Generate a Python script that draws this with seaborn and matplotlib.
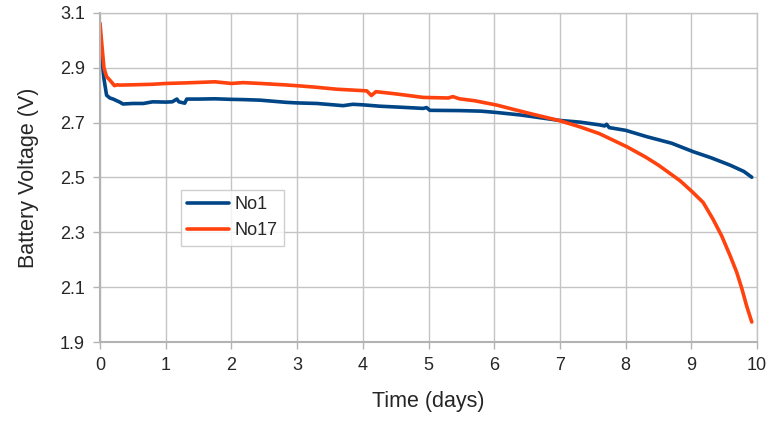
import numpy as np
import pandas as pd
import matplotlib
matplotlib.use('Agg')
import matplotlib.pyplot as plt
import seaborn as sb

# No1 cell
t_no1 = [0, 0.03, 0.06, 0.1, 0.15, 0.2, 0.3, 0.35, 0.5, 0.66, 0.8, 1.0, 1.1, 1.17, 1.2,
         1.29, 1.32, 1.5, 1.75, 2.0, 2.2, 2.44, 2.84, 3.0, 3.3, 3.7, 3.85, 4.0, 4.26, 4.6,
         4.92, 4.97, 5.02, 5.47, 5.8, 6.04, 6.4, 6.7, 7.0, 7.3, 7.6, 7.68, 7.71, 7.75,
         8.0, 8.32, 8.7, 9.03, 9.3, 9.59, 9.8, 9.92]
v_no1 = [2.995, 2.93, 2.86, 2.80, 2.79, 2.786, 2.775, 2.768, 2.77, 2.77, 2.776, 2.775,
         2.776, 2.786, 2.776, 2.771, 2.786, 2.786, 2.787, 2.785, 2.784, 2.782, 2.774,
         2.772, 2.770, 2.762, 2.767, 2.765, 2.76, 2.756, 2.752, 2.755, 2.745, 2.744,
         2.742, 2.737, 2.728, 2.718, 2.708, 2.702, 2.692, 2.688, 2.694, 2.682, 2.672,
         2.649, 2.625, 2.594, 2.572, 2.545, 2.522, 2.501]

# No17 cell
t_no17 = [0, 0.03, 0.06, 0.1, 0.15, 0.22, 0.26, 0.3, 0.5, 0.8, 1.01, 1.3, 1.75, 2.0,
          2.18, 2.44, 2.8, 3.04, 3.3, 3.6, 4.06, 4.13, 4.2, 4.5, 4.92, 5.3, 5.37, 5.47,
          5.7, 6.04, 6.3, 6.6, 7.0, 7.3, 7.6, 8.02, 8.3, 8.5, 8.83, 9.0, 9.18, 9.33,
          9.46, 9.59, 9.69, 9.77, 9.84, 9.92]
v_no17 = [3.063, 2.98, 2.90, 2.868, 2.855, 2.835, 2.838, 2.837, 2.838, 2.84, 2.843,
          2.845, 2.849, 2.843, 2.846, 2.843, 2.838, 2.834, 2.829, 2.822, 2.816, 2.799,
          2.813, 2.805, 2.792, 2.79, 2.795, 2.787, 2.78, 2.764, 2.748, 2.73, 2.707,
          2.685, 2.66, 2.612, 2.575, 2.545, 2.488, 2.451, 2.409, 2.348, 2.288, 2.215,
          2.155, 2.094, 2.033, 1.973]

df = pd.concat([
    pd.DataFrame({'time': t_no1, 'volts': v_no1, 'cell': 'No1'}),
    pd.DataFrame({'time': t_no17, 'volts': v_no17, 'cell': 'No17'}),
])

sb.set_style('white')
plt.rcParams['font.family'] = ['Liberation Sans', 'DejaVu Sans']

fig = plt.figure(figsize=(7.77, 4.40), dpi=100)
ax = fig.add_axes([0.1287, 0.2227, 0.8456, 0.7478])

sb.lineplot(data=df, x='time', y='volts', hue='cell', estimator=None,
            palette={'No1': '#004586', 'No17': '#ff420e'}, linewidth=2.6, ax=ax)

ax.set_xlim(0, 10)
ax.set_ylim(1.9, 3.1)
ax.set_xticks(np.arange(0, 11, 1))
ax.set_yticks(np.arange(1.9, 3.11, 0.2))
ax.set_yticklabels([f'{v:.1f}' for v in np.arange(1.9, 3.11, 0.2)])
ax.grid(True, color='#c4c4c4', linewidth=1)
for s in ax.spines.values():
    s.set_color('#c4c4c4')
    s.set_linewidth(1)
ax.spines['left'].set_color('#b3b3b3')
ax.spines['bottom'].set_color('#b3b3b3')
ax.spines['left'].set_linewidth(1.5)
ax.spines['bottom'].set_linewidth(1.5)
ax.tick_params(axis='both', length=5, width=1, color='#b3b3b3', labelsize=13,
               direction='out', pad=6)
ax.tick_params(left=True, bottom=True)

ax.set_xlabel('Time (days)', fontsize=15.5, labelpad=12)
ax.set_ylabel('Battery Voltage (V)', fontsize=15.5, labelpad=15)

leg = ax.legend(loc='upper left', bbox_to_anchor=(0.123, 0.462), fontsize=13,
                frameon=True, fancybox=False, edgecolor='#c4c4c4', handlelength=2.3,
                handletextpad=0.35, borderpad=0.35, labelspacing=0.5, borderaxespad=0)
leg.get_frame().set_linewidth(1)

fig.savefig('out.png', dpi=100)
